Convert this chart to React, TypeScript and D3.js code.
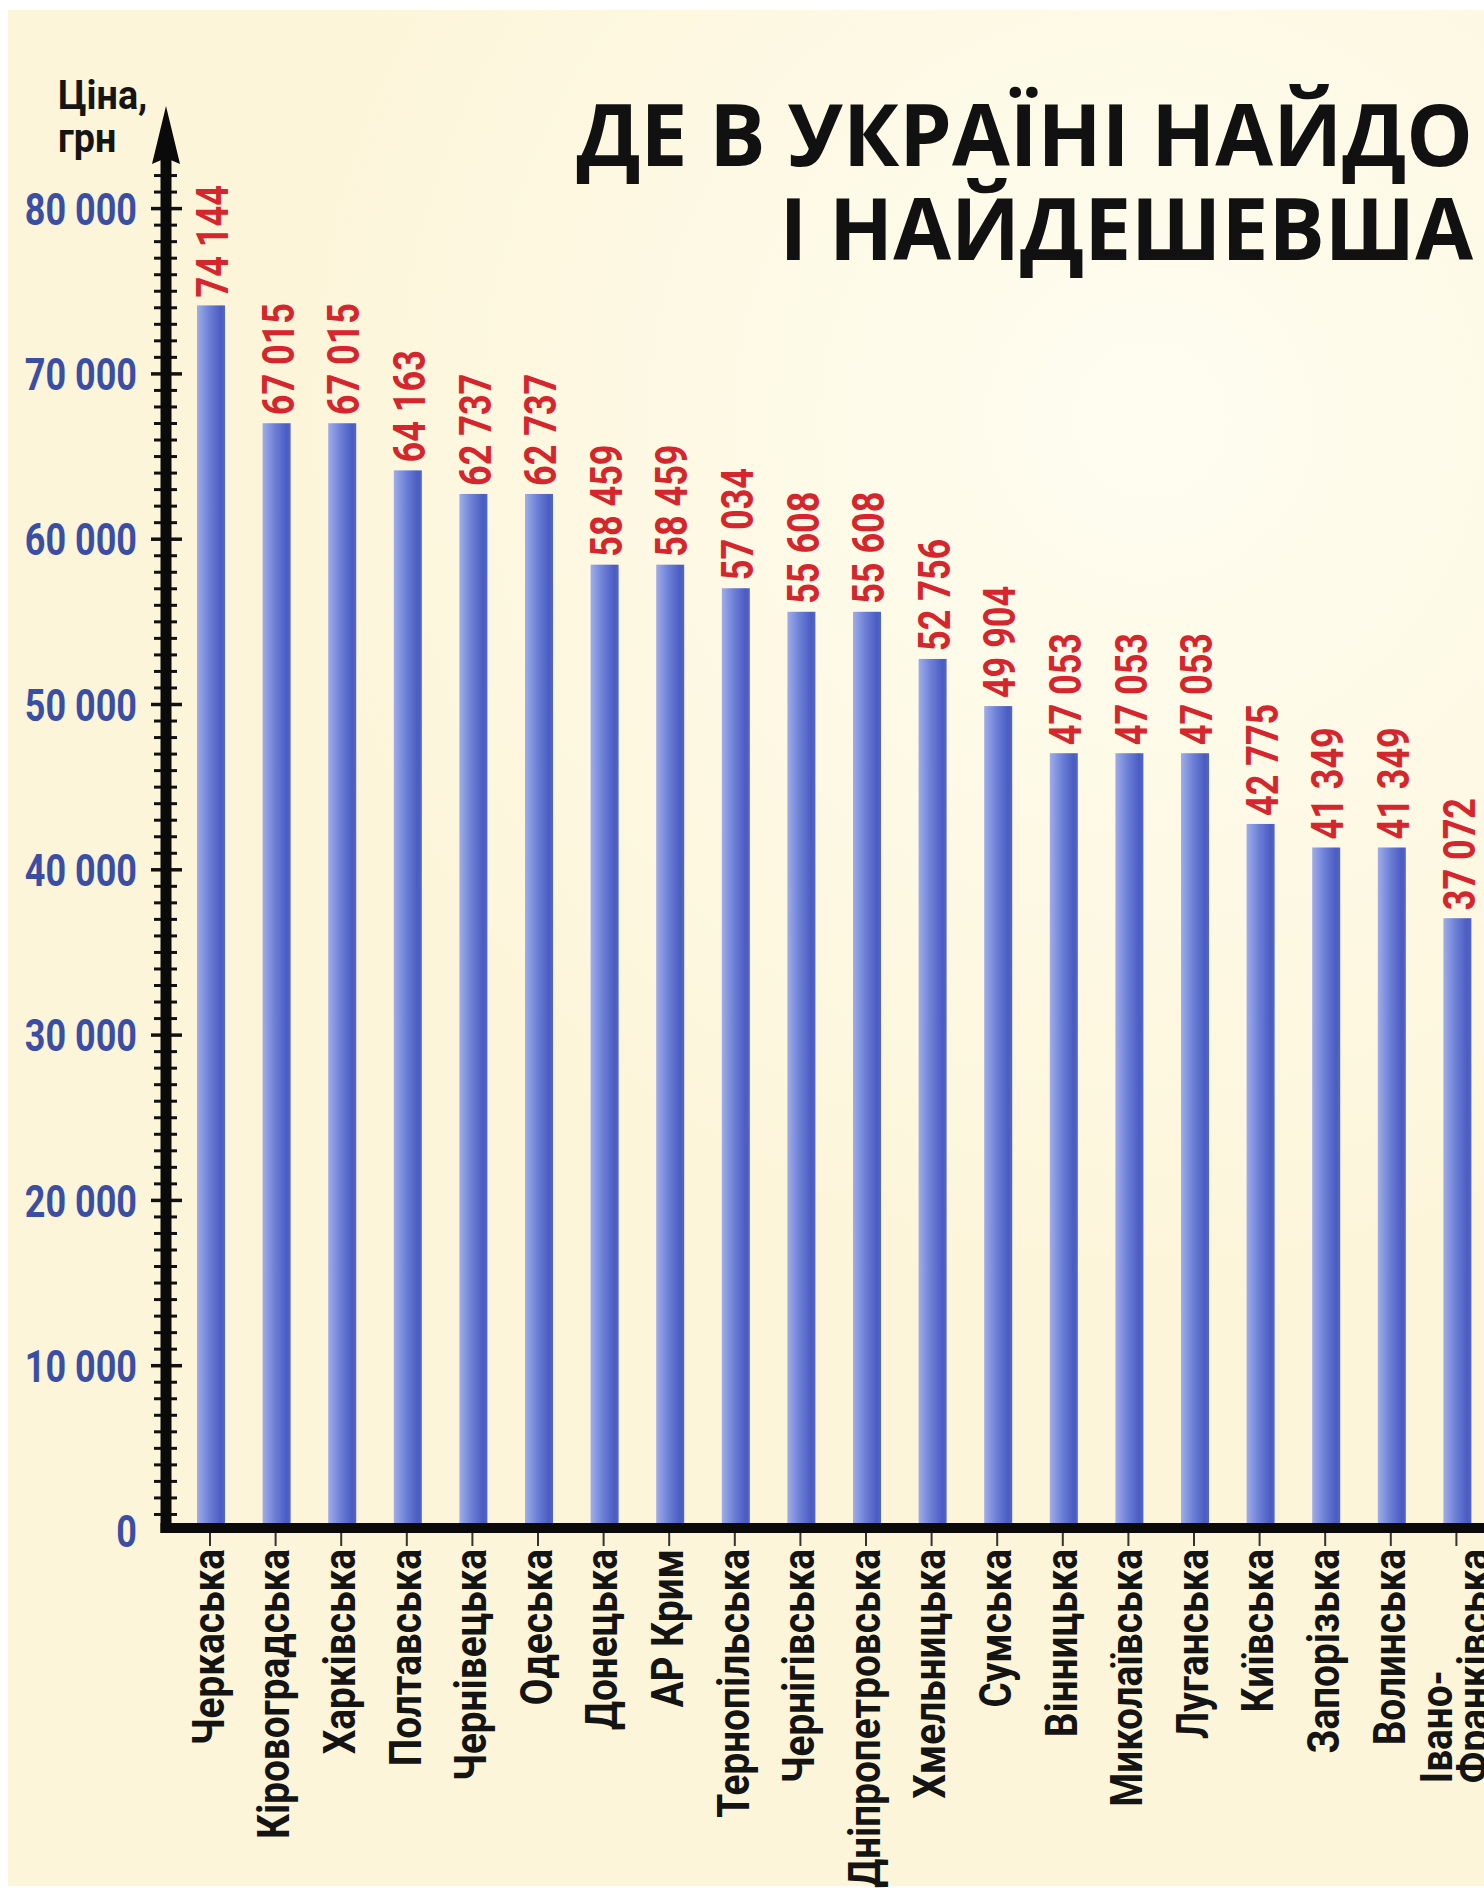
import React, { useEffect, useRef } from "react";
import * as d3 from "d3";

const W = 1484;
const H = 1888;

const titleLines = ["ДЕ В УКРАЇНІ НАЙДО", "І НАЙДЕШЕВША"];
const axisTitleLines = ["Ціна,", "грн"];

const categories = [
  "Черкаська",
  "Кіровоградська",
  "Харківська",
  "Полтавська",
  "Чернівецька",
  "Одеська",
  "Донецька",
  "АР Крим",
  "Тернопільська",
  "Чернігівська",
  "Дніпропетровська",
  "Хмельницька",
  "Сумська",
  "Вінницька",
  "Миколаївська",
  "Луганська",
  "Київська",
  "Запорізька",
  "Волинська",
  "Івано-Франківська",
];

const categoryLabelLines = [
  ["Черкаська"],
  ["Кіровоградська"],
  ["Харківська"],
  ["Полтавська"],
  ["Чернівецька"],
  ["Одеська"],
  ["Донецька"],
  ["АР Крим"],
  ["Тернопільська"],
  ["Чернігівська"],
  ["Дніпропетровська"],
  ["Хмельницька"],
  ["Сумська"],
  ["Вінницька"],
  ["Миколаївська"],
  ["Луганська"],
  ["Київська"],
  ["Запорізька"],
  ["Волинська"],
  ["Івано-", "Франківська"],
];

const prices = [
  74144, 67015, 67015, 64163, 62737, 62737, 58459, 58459, 57034, 55608, 55608,
  52756, 49904, 47053, 47053, 47053, 42775, 41349, 41349, 37072,
];

const yMajorTicks = [0, 10000, 20000, 30000, 40000, 50000, 60000, 70000, 80000];
const yMinorStep = 1000;
const yAxisTop = 82000;

const locale = d3.formatLocale({
  decimal: ",",
  thousands: "\u00a0",
  grouping: [3],
  currency: ["", ""],
});
const fmt = locale.format(",d");

const NUM_FONT = "Roboto, 'Noto Sans', sans-serif";
const TITLE_FONT = "'Open Sans', 'Noto Sans', sans-serif";

export default function App() {
  const ref = useRef<SVGSVGElement | null>(null);

  useEffect(() => {
    const svg = d3.select(ref.current);
    svg.selectAll("*").remove();

    const x = d3
      .scaleBand<string>()
      .domain(categories)
      .range([197, 1471.4])
      .paddingInner(0.573)
      .paddingOuter(0);
    const y = d3.scaleLinear().domain([0, 80000]).range([1531, 208.6]);

    const defs = svg.append("defs");
    const bg = defs
      .append("radialGradient")
      .attr("id", "bgGrad")
      .attr("gradientUnits", "userSpaceOnUse")
      .attr("cx", 1150)
      .attr("cy", 420)
      .attr("r", 900);
    bg.append("stop").attr("offset", "0%").attr("stop-color", "#fffdf1");
    bg.append("stop").attr("offset", "100%").attr("stop-color", "#fcf5d9");

    const bar = defs
      .append("linearGradient")
      .attr("id", "barGrad")
      .attr("x1", 0)
      .attr("x2", 1)
      .attr("y1", 0)
      .attr("y2", 0);
    bar.append("stop").attr("offset", "0%").attr("stop-color", "#a0ade9");
    bar.append("stop").attr("offset", "40%").attr("stop-color", "#7083d8");
    bar.append("stop").attr("offset", "85%").attr("stop-color", "#4a5cc2");
    bar.append("stop").attr("offset", "100%").attr("stop-color", "#5465c8");

    // background
    svg.append("rect").attr("width", W).attr("height", H).attr("fill", "#ffffff");
    svg
      .append("rect")
      .attr("x", 8)
      .attr("y", 10)
      .attr("width", W - 8)
      .attr("height", H - 12)
      .attr("fill", "url(#bgGrad)");

    // title
    svg
      .append("g")
      .selectAll("g")
      .data(titleLines)
      .join("g")
      .attr("transform", (_d, i) => `translate(1473,${166 + i * 94}) scale(0.975,1)`)
      .append("text")
      .attr("text-anchor", "end")
      .attr("font-family", TITLE_FONT)
      .attr("font-weight", 700)
      .attr("font-size", 86)
      .attr("fill", "#111111")
      .text((d) => d);

    // axis title
    svg
      .append("g")
      .selectAll("g")
      .data(axisTitleLines)
      .join("g")
      .attr("transform", (_d, i) => `translate(58,${109 + i * 43}) scale(0.92,1)`)
      .append("text")
      .attr("font-family", NUM_FONT)
      .attr("font-weight", 700)
      .attr("font-size", 41)
      .attr("fill", "#151515")
      .text((d) => d);

    // bars
    svg
      .append("g")
      .selectAll("rect")
      .data(prices)
      .join("rect")
      .attr("x", (_d, i) => x(categories[i]) as number)
      .attr("width", x.bandwidth())
      .attr("y", (d) => y(d))
      .attr("height", (d) => y(0) - y(d))
      .attr("fill", "url(#barGrad)");

    // value labels
    svg
      .append("g")
      .selectAll("g")
      .data(prices)
      .join("g")
      .attr(
        "transform",
        (d, i) =>
          `translate(${(x(categories[i]) as number) + x.bandwidth() / 2 + 1},${y(d) - 8}) rotate(-90) scale(0.8,1)`
      )
      .append("text")
      .attr("dy", "0.36em")
      .attr("font-family", NUM_FONT)
      .attr("font-weight", 700)
      .attr("font-size", 45)
      .attr("fill", "#d6262d")
      .text((d) => fmt(d));

    // y axis tick labels
    svg
      .append("g")
      .selectAll("g")
      .data(yMajorTicks)
      .join("g")
      .attr("transform", (d) => `translate(137,${y(d)}) scale(0.8,1)`)
      .append("text")
      .attr("dy", "0.36em")
      .attr("text-anchor", "end")
      .attr("font-family", NUM_FONT)
      .attr("font-weight", 700)
      .attr("font-size", 45)
      .attr("fill", "#3a4ea8")
      .text((d) => fmt(d));

    // y axis minor and major ticks
    const axisX = 166;
    const minorVals = d3.range(yMinorStep, yAxisTop + 1, yMinorStep);
    svg
      .append("g")
      .selectAll("line")
      .data(minorVals)
      .join("line")
      .attr("x1", (d) => (d % 10000 === 0 ? axisX - 15 : axisX - 12))
      .attr("x2", (d) => (d % 10000 === 0 ? axisX + 16 : axisX + 11))
      .attr("y1", (d) => y(d))
      .attr("y2", (d) => y(d))
      .attr("stroke", "#111")
      .attr("stroke-width", (d) => (d % 10000 === 0 ? 3.5 : 3));

    // vertical axis line
    svg
      .append("line")
      .attr("x1", axisX)
      .attr("x2", axisX)
      .attr("y1", y(0) + 2)
      .attr("y2", 150)
      .attr("stroke", "#0a0a0a")
      .attr("stroke-width", 11);

    // arrow head
    svg
      .append("path")
      .attr(
        "d",
        d3.line()([
          [axisX, 106],
          [axisX + 14, 164],
          [axisX, 158],
          [axisX - 14, 164],
        ]) + "Z"
      )
      .attr("fill", "#0a0a0a");

    // horizontal axis line
    svg
      .append("line")
      .attr("x1", axisX - 5.5)
      .attr("x2", W)
      .attr("y1", y(0) - 3)
      .attr("y2", y(0) - 3)
      .attr("stroke", "#0a0a0a")
      .attr("stroke-width", 10);

    // x ticks
    svg
      .append("g")
      .selectAll("line")
      .data(categories)
      .join("line")
      .attr("x1", (d) => (x(d) as number) + x.bandwidth() / 2 - 1)
      .attr("x2", (d) => (x(d) as number) + x.bandwidth() / 2 - 1)
      .attr("y1", y(0) + 2)
      .attr("y2", y(0) + 15)
      .attr("stroke", "#333")
      .attr("stroke-width", 2);

    // x labels
    const labelTop = 1549;
    const sx = 0.88;
    const lineGap = 37;
    categories.forEach((c, i) => {
      const lines = categoryLabelLines[i];
      const cx = (x(c) as number) + x.bandwidth() / 2 - 3;
      const n = lines.length;
      const g = svg.append("g");
      const texts = lines.map((ln, j) => {
        const off = (j - (n - 1) / 2) * lineGap;
        const gg = g
          .append("g")
          .attr("transform", `translate(${cx + off},${labelTop}) rotate(-90) scale(${sx},1)`);
        return gg
          .append("text")
          .attr("dy", "0.36em")
          .attr("text-anchor", "end")
          .attr("font-family", NUM_FONT)
          .attr("font-weight", 700)
          .attr("font-size", 44)
          .attr("fill", "#141414")
          .text(ln);
      });
      if (n > 1) {
        const lens = texts.map((t) => (t.node() as SVGTextElement).getComputedTextLength());
        const maxLen = d3.max(lens) as number;
        texts.forEach((t) => {
          t.attr("text-anchor", "start").attr("x", -maxLen);
        });
      }
    });
  }, []);

  return (
    <svg
      ref={ref}
      width={W}
      height={H}
      viewBox={`0 0 ${W} ${H}`}
      style={{ position: "absolute", left: 0, top: 0, display: "block" }}
    />
  );
}
